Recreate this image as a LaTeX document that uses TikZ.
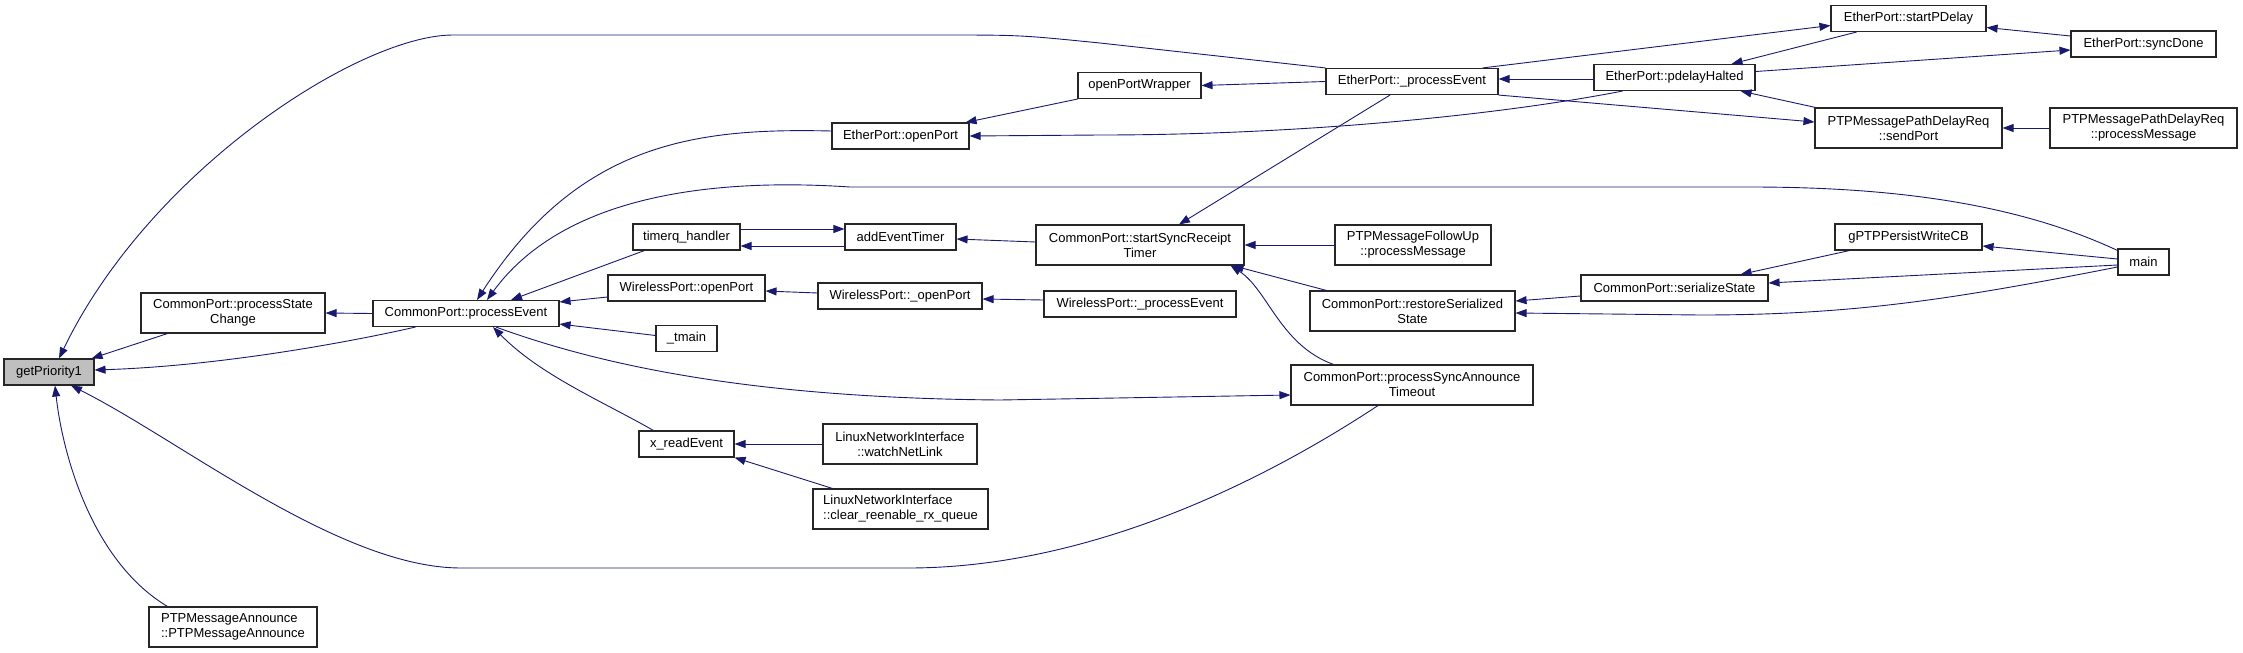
\documentclass[tikz,border=0pt]{standalone}
\usepackage{fontspec}
\setmainfont{Liberation Sans}
\usetikzlibrary{arrows.meta}
\definecolor{edgeblue}{HTML}{191970}
\definecolor{focusgray}{HTML}{BFBFBF}

\begin{document}
\begin{tikzpicture}[
	x=1pt, y=-1pt,
	every node/.style={font=\fontsize{13}{15}\selectfont},
	func/.style={rectangle, draw=black!85, line width=1.1pt, inner sep=0pt, minimum height=26pt, align=center},
	func2/.style={func, minimum height=40pt},
	call/.style={draw=edgeblue, line width=0.9pt, -{Triangle[length=11pt,width=8pt]}}
]
\useasboundingbox (0,0) rectangle (2243,653);

% Function in focus and its direct callers
\node[func, fill=focusgray, minimum width=90pt] (getPrio) at (49,372) {getPriority1};
\node[func2, minimum width=168pt, align=left] (annCtor) at (233,627) {PTPMessageAnnounce\\::PTPMessageAnnounce};
\node[func2, minimum width=184pt] (procState) at (233,313) {CommonPort::processState\\Change};
\node[func, minimum width=186pt] (procEvent) at (466,313.5) {CommonPort::processEvent};

% Callers of processEvent
\node[func, minimum width=137pt] (etherOpen) at (900.5,136) {EtherPort::openPort};
\node[func, minimum width=107pt] (timerqH) at (686.5,237) {timerq\_handler};
\node[func, minimum width=157pt] (wlOpen) at (686.5,288) {WirelessPort::openPort};
\node[func, minimum width=61pt] (tMain) at (686.5,338.5) {\_tmain};
\node[func, minimum width=95pt] (xRead) at (686.5,444) {x\_readEvent};

% Next column
\node[func, minimum width=123pt] (openWrap) at (1139.5,85.5) {openPortWrapper};
\node[func, minimum width=111pt] (addTimer) at (900.5,237) {addEventTimer};
\node[func, minimum width=164pt] (wlOpenPriv) at (900,296) {WirelessPort::\_openPort};
\node[func2, minimum width=154pt] (linuxWatch) at (900,444) {LinuxNetworkInterface\\::watchNetLink};
\node[func2, minimum width=175pt, align=left] (linuxClear) at (900.5,509) {LinuxNetworkInterface\\::clear\_reenable\_rx\_queue};

% Middle column
\node[func, minimum width=172pt] (etherProc) at (1412,81.5) {EtherPort::\_processEvent};
\node[func2, minimum width=208pt] (syncTimer) at (1140,245) {CommonPort::startSyncReceipt\\Timer};
\node[func, minimum width=192pt] (wlProc) at (1140,304) {WirelessPort::\_processEvent};
\node[func2, minimum width=156pt] (followUp) at (1413,245) {PTPMessageFollowUp\\::processMessage};
\node[func2, minimum width=205pt] (restoreSer) at (1412.5,311) {CommonPort::restoreSerialized\\State};
\node[func2, minimum width=242pt] (syncAnn) at (1412,385) {CommonPort::processSyncAnnounce\\Timeout};

% Right columns
\node[func, minimum width=161pt] (pdelayH) at (1674.5,77.5) {EtherPort::pdelayHalted};
\node[func, minimum width=187pt] (serState) at (1674.5,288) {CommonPort::serializeState};
\node[func, minimum width=155pt] (startPD) at (1908.5,18.5) {EtherPort::startPDelay};
\node[func2, minimum width=187pt] (pdSend) at (1908.5,128) {PTPMessagePathDelayReq\\::sendPort};
\node[func, minimum width=147pt] (persistCB) at (1908.5,237) {gPTPPersistWriteCB};
\node[func, minimum width=145pt] (syncDone) at (2143.5,44) {EtherPort::syncDone};
\node[func2, minimum width=187pt] (pdProc) at (2143.5,128) {PTPMessagePathDelayReq\\::processMessage};
\node[func, minimum width=51pt] (mainFn) at (2143.5,262) {main};

% Calls into getPriority1
\draw[call] ([xshift=27pt]procState.south west) -- ([xshift=-3pt]getPrio.north east);
\draw[call] ([xshift=43pt]procEvent.south west) .. controls (350,342) and (220,366) .. ([yshift=2pt]getPrio.east);
\draw[call] (etherProc.north west) -- (1100,43) .. controls (1020,35) .. (940,35) -- (453,35) .. controls (360,35) and (150,170) .. ([xshift=10pt]getPrio.north);
\draw[call] ([xshift=-34pt]syncAnn.south) .. controls (1250,490) and (1080,568) .. (908,568) -- (461,568) .. controls (340,568) and (180,440) .. ([xshift=22pt]getPrio.south);
\draw[call] ([xshift=19pt]annCtor.north west) .. controls (90,560) and (62,450) .. ([xshift=6pt]getPrio.south);

% Calls into processEvent
\draw[call] (procEvent.west) -- (procState.east);
\draw[call] ([yshift=5pt]etherOpen.west) .. controls (700,128) and (580,140) .. ([xshift=11pt]procEvent.north);
\draw[call] ([yshift=-2pt]mainFn.north west) .. controls (2020,205) and (1900,187) .. (1750,187) -- (850,187) .. controls (700,177) and (560,200) .. ([xshift=21pt]procEvent.north);
\draw[call] ([xshift=12pt]timerqH.south west) -- ([xshift=45pt]procEvent.north);
\draw[call] ([yshift=-9pt]wlOpen.west) -- ([yshift=-2pt]procEvent.north east);
\draw[call] ([yshift=3pt]tMain.west) -- ([yshift=3pt]procEvent.south east);
\draw[call] ([xshift=15pt]xRead.north west) .. controls (600,400) and (540,375) .. ([xshift=27pt]procEvent.south);
\draw[call] ([xshift=30pt]procEvent.south) .. controls (600,365) and (750,398) .. (1000,400) -- ([yshift=-10pt]syncAnn.west);

% x_readEvent and timers
\draw[call] (linuxWatch.west) -- (xRead.east);
\draw[call] ([xshift=20pt]linuxClear.north west) -- (xRead.south east);
\draw[call] ([yshift=8pt]timerqH.east) -- ([yshift=8pt]addTimer.west);
\draw[call] ([yshift=-9pt]addTimer.west) -- ([yshift=-9pt]timerqH.east);
\draw[call] ([yshift=3pt]syncTimer.west) -- ([yshift=-2pt]addTimer.east);
\draw[call] ([xshift=-22pt]etherProc.south) -- ([xshift=39pt]syncTimer.north);
\draw[call] (followUp.west) -- (syncTimer.east);
\draw[call] ([xshift=17pt]restoreSer.north west) -- ([xshift=-12pt]syncTimer.south east);
\draw[call] ([xshift=43pt]syncAnn.north west) .. controls (1280,345) and (1268,290) .. ([xshift=-14pt]syncTimer.south east);

% Wireless port chain
\draw[call] ([yshift=3pt]wlOpenPriv.west) -- ([yshift=-3pt]wlOpen.east);
\draw[call] ([yshift=4pt]wlProc.west) -- ([yshift=-3pt]wlOpenPriv.east);

% Ether port chain
\draw[call] (openWrap.south west) -- ([xshift=-4pt]etherOpen.north east);
\draw[call] ([xshift=29pt]pdelayH.south west) .. controls (1500,115) and (1300,135) .. (1100,135) -- (etherOpen.east);
\draw[call] (etherProc.west) -- (openWrap.east);
\draw[call] ([yshift=-1.5pt]pdelayH.west) -- ([yshift=2.5pt]etherProc.east);
\draw[call] ([xshift=-16pt]etherProc.north east) -- ([yshift=-7pt]startPD.west);
\draw[call] (etherProc.south east) -- ([yshift=6pt]pdSend.west);
\draw[call] ([xshift=26pt]startPD.south west) -- ([xshift=-24pt]pdelayH.north east);
\draw[call] ([yshift=6pt]pdelayH.east) -- ([yshift=-6pt]syncDone.west);
\draw[call] ([xshift=1pt]pdSend.north west) -- ([xshift=-15pt]pdelayH.south east);
\draw[call] ([yshift=8pt]syncDone.west) -- ([yshift=-9pt]startPD.east);
\draw[call] (pdProc.west) -- (pdSend.east);

% Serialization
\draw[call] ([yshift=-8pt]serState.west) -- ([yshift=10pt]restoreSer.east);
\draw[call] ([yshift=-5pt]mainFn.west) .. controls (1950,300) and (1850,315) .. (1700,315) -- ([yshift=-2pt]restoreSer.east);
\draw[call] ([xshift=15pt]persistCB.south west) -- ([xshift=-28pt]serState.north east);
\draw[call] ([yshift=-3pt]mainFn.west) -- ([yshift=5pt]serState.east);
\draw[call] ([yshift=3pt]mainFn.west) -- ([yshift=-9pt]persistCB.east);

\end{tikzpicture}
\end{document}
